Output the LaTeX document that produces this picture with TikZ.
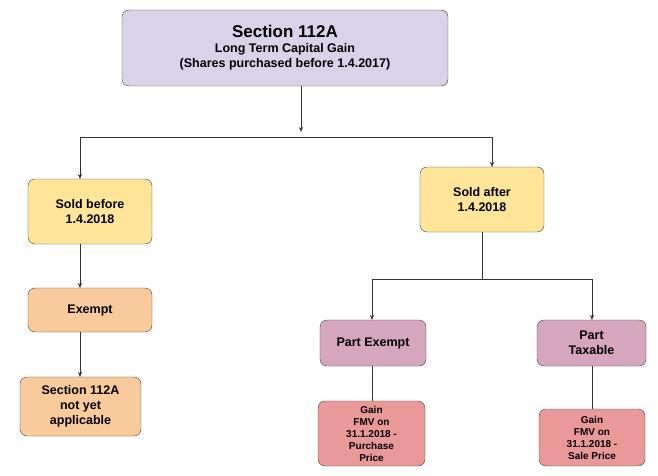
\documentclass[tikz,border=0pt]{standalone}
\usepackage{fontspec}
\setmainfont{Liberation Sans}
\usetikzlibrary{arrows.meta}
\definecolor{lav}{HTML}{D9D2E9}
\definecolor{yel}{HTML}{FFE599}
\definecolor{ora}{HTML}{F9CB9C}
\definecolor{pin}{HTML}{D5A6BD}
\definecolor{red1}{HTML}{EA9999}
\begin{document}
\begin{tikzpicture}[x=1pt,y=-1pt,
 box/.style={draw=black!75,rounded corners=7pt,align=center,font=\bfseries\fontsize{12.5}{15}\selectfont,inner sep=2pt},
 arr/.style={-{Stealth[length=5pt,width=4pt]},draw=black!80},
 ln/.style={draw=black!80}]
\useasboundingbox (0,0) rectangle (658,476);
\node[box,fill=lav,minimum width=326pt,minimum height=76pt] (top) at (285,48)
 {{\fontsize{17}{20}\selectfont Section 112A}\\Long Term Capital Gain\\(Shares purchased before 1.4.2017)};
\node[box,fill=yel,minimum width=124pt,minimum height=65pt] (sb) at (90,211.5) {Sold before\\1.4.2018};
\node[box,fill=yel,minimum width=124pt,minimum height=65pt] (sa) at (482,199.5) {Sold after\\1.4.2018};
\node[box,fill=ora,minimum width=124pt,minimum height=44pt] (ex) at (90,310) {Exempt};
\node[box,fill=ora,minimum width=121pt,minimum height=59pt] (na) at (80.5,406.5) {Section 112A\\not yet\\applicable};
\node[box,fill=pin,minimum width=106pt,minimum height=46pt] (pe) at (373,343) {Part Exempt};
\node[box,fill=pin,minimum width=109pt,minimum height=46pt] (pt) at (591.5,343) {Part\\Taxable};
\node[box,fill=red1,minimum width=107pt,minimum height=65pt,font=\bfseries\fontsize{10}{12}\selectfont] (g1) at (371.5,433.5) {Gain\\FMV on\\31.1.2018 -\\Purchase\\Price};
\node[box,fill=red1,minimum width=106pt,minimum height=57pt,font=\bfseries\fontsize{10}{12}\selectfont] (g2) at (592,437.5) {Gain\\FMV on\\31.1.2018 -\\Sale Price};
\draw[arr] (301,86) -- (301,132);
\draw[ln] (80,137) -- (492,137);
\draw[arr] (80,137) -- (80,179);
\draw[arr] (492,137) -- (492,167);
\draw[arr] (sb.south -| 80,0) -- (80,288);
\draw[arr] (ex.south -| 80,0) -- (80,377);
\draw[ln] (sa.south) -- (482,279);
\draw[ln] (372,279) -- (592,279);
\draw[arr] (372,279) -- (372,320);
\draw[arr] (592,279) -- (592,320);
\draw[ln] (pe.south -| 372,0) -- (372,401);
\draw[ln] (pt.south -| 592,0) -- (592,409);
\end{tikzpicture}
\end{document}
